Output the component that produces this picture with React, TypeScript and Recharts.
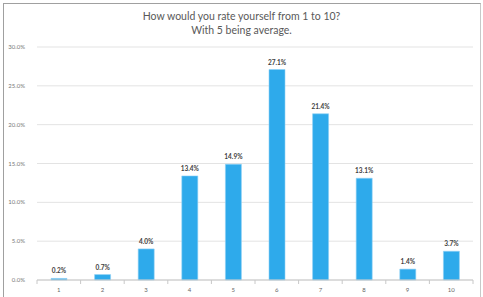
import { BarChart, Bar, XAxis, YAxis, CartesianGrid, LabelList } from "recharts";

const categories = ["1", "2", "3", "4", "5", "6", "7", "8", "9", "10"];
const shares = [0.2, 0.7, 4.0, 13.4, 14.9, 27.1, 21.4, 13.1, 1.4, 3.7];
const yTicks = [0, 5, 10, 15, 20, 25, 30];

const data = categories.map((name, i) => ({ name, value: shares[i] }));

const font = "Lato, 'Open Sans', sans-serif";
const pct = (v: number) => `${Number(v).toFixed(1)}%`;

// category label plus tick marks on the band edges, like the original
function CategoryTick(props: any) {
  const { x, y, payload, index } = props;
  const half = payload.offset || 0;
  const last = index === categories.length - 1;
  return (
    <g>
      <line x1={x - half} x2={x - half} y1={y} y2={y + 4} stroke="#c8c8c8" />
      {last && <line x1={x + half} x2={x + half} y1={y} y2={y + 4} stroke="#c8c8c8" />}
      <text x={x} y={y + 12} textAnchor="middle" fontSize={6} fill="#666" fontFamily={font}>
        {payload.value}
      </text>
    </g>
  );
}

export default function App() {
  return (
    <div style={{ position: "fixed", left: 0, top: 0, width: 483, height: 297, background: "#fff", overflow: "hidden", fontFamily: font }}>
      <div style={{ position: "absolute", left: 0, top: 9, width: 483, textAlign: "center", fontSize: 10.5, lineHeight: "14px", color: "#595959" }}>
        How would you rate yourself from 1 to 10?
        <br />
        With 5 being average.
      </div>
      <div style={{ position: "absolute", left: 0, top: 0 }}>
        <BarChart width={483} height={297} data={data} margin={{ top: 47, right: 10, bottom: 0, left: 0 }}>
          <CartesianGrid vertical={false} stroke="#e3e3e3" />
          <XAxis
            dataKey="name"
            height={17}
            tickLine={false}
            tickSize={0}
            tickMargin={0}
            axisLine={{ stroke: "#c8c8c8" }}
            tick={<CategoryTick />}
            interval={0}
          />
          <YAxis
            width={37}
            domain={[0, 30]}
            ticks={yTicks}
            tickFormatter={pct}
            axisLine={false}
            tickLine={false}
            tickMargin={6}
            tick={{ fontSize: 6, fill: "#777", fontFamily: font }}
          />
          <Bar dataKey="value" barSize={16} fill="#2eaaeb" stroke="#8fd0f5" strokeWidth={0.6} isAnimationActive={false}>
            <LabelList dataKey="value" position="top" offset={5} formatter={pct} style={{ fontSize: 6.5, fontWeight: 700, fill: "#404040", fontFamily: font }} />
          </Bar>
        </BarChart>
      </div>
      <div style={{ position: "absolute", left: 3, top: 3, width: 478, height: 300, borderLeft: "1px solid #a0a0a0", borderTop: "1px solid #a0a0a0", borderRight: "1px solid #c8c8c8", boxSizing: "border-box", pointerEvents: "none" }} />
    </div>
  );
}
